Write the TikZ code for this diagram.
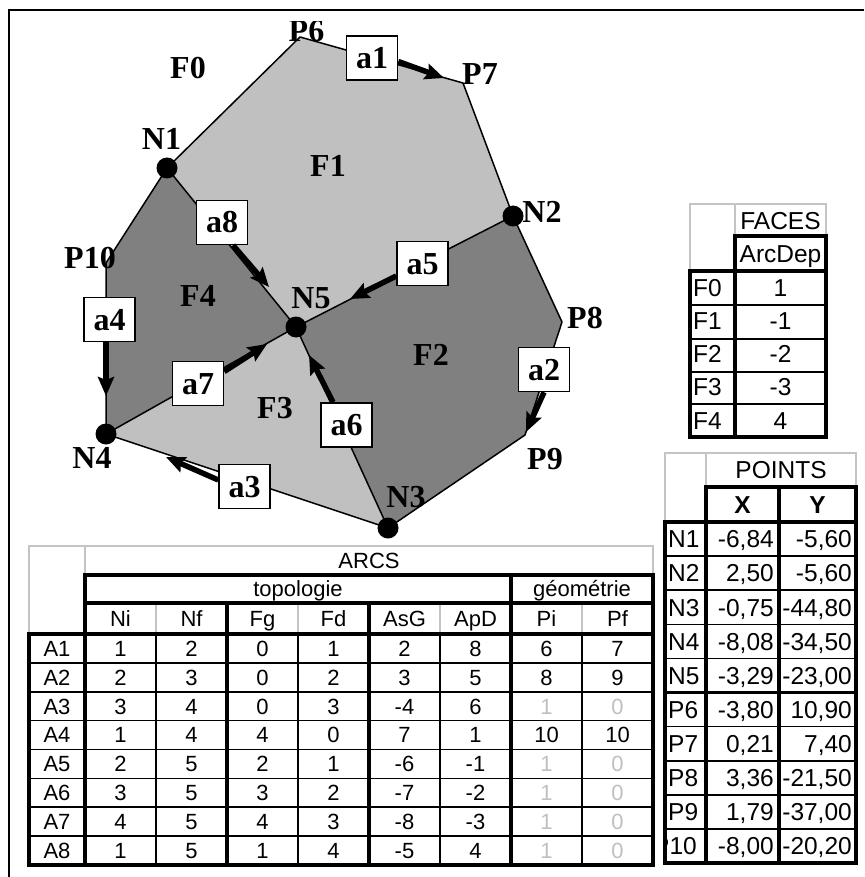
\documentclass[tikz,border=0pt]{standalone}
\usepackage{fontspec}
\setmainfont{Liberation Serif}
\newfontfamily\tabfont{Liberation Sans}
\usetikzlibrary{arrows.meta}
\definecolor{lgray}{RGB}{192,192,192}
\definecolor{dgray}{RGB}{128,128,128}
\definecolor{gridc}{RGB}{196,196,196}
\newcommand\greyed[1]{\textcolor{lgray}{#1}}
\tikzset{
  lbl/.style={font=\fontsize{32}{32}\selectfont\bfseries, inner sep=0pt, text height=21pt, text depth=0pt},
  abox/.style={lbl, draw, line width=1.5pt, fill=white, minimum width=51pt, minimum height=44pt},
  edgeln/.style={line width=1.5pt, line join=round},
  arr/.style={line width=5.5pt, -{Stealth[length=19pt,width=16pt,inset=3pt]}},
  tA/.style={font=\tabfont\fontsize{22}{22}\selectfont, inner sep=0pt, text height=15.7pt, text depth=0pt},
  tB/.style={font=\tabfont\fontsize{24.5}{24.5}\selectfont, inner sep=0pt, text height=17.5pt, text depth=0pt},
  gridl/.style={draw=gridc, line width=1.3pt},
  thk/.style={line width=3.2pt},
  thn/.style={line width=1.6pt},
  mid/.style={line width=2.2pt}
}
\begin{document}
\begin{tikzpicture}[x=1pt,y=-1pt]
\fill[white] (0,0) rectangle (864,877);
\useasboundingbox (0,0) rectangle (864,877);
% frame
\draw[line width=2pt] (9,877) -- (9,10.5) -- (864,10.5);

% vertices
\coordinate (N1) at (167,168);
\coordinate (N2) at (513,216);
\coordinate (N3) at (388,528);
\coordinate (N4) at (106,434);
\coordinate (N5) at (296,327);
\coordinate (P6) at (300,37);
\coordinate (P7) at (463,83);
\coordinate (P8) at (562,322);
\coordinate (P9) at (525,435);
\coordinate (P10) at (106,263);

% faces
\fill[lgray] (N1) -- (P6) -- (P7) -- (N2) -- (N5) -- cycle;
\fill[dgray] (N2) -- (P8) -- (P9) -- (N3) -- (N5) -- cycle;
\fill[lgray] (N5) -- (N3) -- (N4) -- cycle;
\fill[dgray] (N1) -- (N5) -- (N4) -- (P10) -- cycle;

% labels
\node[lbl] (lF0) at (188,68.5) {F0};
\node[lbl] (lF1) at (328,166) {F1};
\node[lbl] (lF2) at (431,355) {F2};
\node[lbl] (lF3) at (275,408) {F3};
\node[lbl] (lF4) at (198,296) {F4};
\node[lbl] (lN1) at (161.5,139) {N1};
\node[lbl] (lN2) at (542,212) {N2};
\node[lbl] (lN3) at (406,497) {N3};
\node[lbl] (lN4) at (92,457.5) {N4};
\node[lbl] (lN5) at (311,298) {N5};
\begin{scope}
\clip (250,22) rectangle (360,60);
\node[lbl] (lP6) at (306.5,31.5) {P6};
\end{scope}
\node[lbl] (lP7) at (480,74) {P7};
\node[lbl] (lP8) at (585,318) {P8};
\node[lbl] (lP9) at (545,459) {P9};
\node[lbl] (lP10) at (90,258) {P10};

% edges
\draw[edgeln] (N1) -- (P6) -- (P7) -- (N2) -- (P8) -- (P9) -- (N3) -- (N4) -- (P10) -- cycle;
\draw[edgeln] (N1) -- (N5);
\draw[edgeln] (N2) -- (N5);
\draw[edgeln] (N3) -- (N5);
\draw[edgeln] (N4) -- (N5);

% arc label boxes
\node[abox] (a1) at (372,58) {a1};
\node[abox] (a8) at (222,222.5) {a8};
\node[abox] (a5) at (422.5,263.5) {a5};
\node[abox] (a4) at (109.5,319.5) {a4};
\node[abox] (a7) at (198,383.5) {a7};
\node[abox] (a6) at (346.5,425) {a6};
\node[abox] (a3) at (244.5,486.5) {a3};
\node[abox] (a2) at (544,369.5) {a2};

% arrow ends
\coordinate (t1) at (444,78);
\coordinate (t8) at (269,287);
\coordinate (t5) at (350,299);
\coordinate (t4) at (106,396);
\coordinate (t7) at (267,344);
\coordinate (t6) at (309,355);
\coordinate (t3) at (166,457);
\coordinate (t2) at (526,432);
\draw[arr] ([yshift=-3.5pt]a1.east) -- (t1);
\draw[arr] ([xshift=11pt]a8.south) -- (t8);
\draw[arr] ([yshift=-12.5pt]a5.west) -- (t5);
\draw[arr] ([xshift=-3.5pt]a4.south) -- (t4);
\draw[arr] ([yshift=12pt]a7.east) -- (t7);
\draw[arr] ([xshift=-13.5pt]a6.north) -- (t6);
\draw[arr] ([yshift=6.5pt]a3.west) -- (t3);
\draw[arr] (a2.south) -- (t2);

% nodes (dots)
\foreach \n in {N1,N2,N3,N4,N5} \fill (\n) circle (10.5);

% ================= ARCS table =================
\draw[gridl] (29,634) -- (29,546) -- (653,546) -- (653,575);
\draw[gridl] (85,546) -- (85,575);
\foreach \x in {156,298,440,582} \draw[gridl] (\x,603) -- (\x,634);
\draw[thk] (85,575) rectangle (653,634);
\draw[thk] (85,603) -- (653,603);
\draw[thk] (511,575) -- (511,634);
\draw[thk] (227,603) -- (227,634);
\draw[thk] (369,603) -- (369,634);
\foreach \i in {1,...,7} \draw[thn] (29,{634+28.875*\i}) -- (653,{634+28.875*\i});
\foreach \x in {156,298,440,582} \draw[thn] (\x,634) -- (\x,865);
\foreach \x in {85,227,369,511} \draw[thk] (\x,634) -- (\x,865);
\draw[thk] (29,634) rectangle (653,865);

\node[tA] (hARCS) at (369,560.5) {ARCS};
\node[tA] (htopo) at (298,589) {topologie};
\node[tA] (hgeo) at (582,589) {géométrie};
\foreach \h [count=\k] in {Ni,Nf,Fg,Fd,AsG,ApD,Pi,Pf}
  \node[tA] (h-\k) at ({120.5+71*(\k-1)},618.5) {\h};
\foreach \vals [count=\i] in {
  {A1,1,2,0,1,2,8,6,7},
  {A2,2,3,0,2,3,5,8,9},
  {A3,3,4,0,3,-4,6,\greyed{1},\greyed{0}},
  {A4,1,4,4,0,7,1,10,10},
  {A5,2,5,2,1,-6,-1,\greyed{1},\greyed{0}},
  {A6,3,5,3,2,-7,-2,\greyed{1},\greyed{0}},
  {A7,4,5,4,3,-8,-3,\greyed{1},\greyed{0}},
  {A8,1,5,1,4,-5,4,\greyed{1},\greyed{0}}} {
  \foreach \v [count=\k] in \vals {
    \pgfmathsetmacro\xx{\k==1 ? 57 : 120.5+71*(\k-2)}
    \node[tA] (c-\i-\k) at (\xx,{634+28.875*(\i-0.5)}) {\v};
  }
}

% ================= FACES table =================
\draw[gridl] (690,271) -- (690,204) -- (826,204) -- (826,236);
\draw[gridl] (735,204) -- (735,236);
\draw[thk] (735,236) rectangle (826,271);
\foreach \y in {305,339,372,404} \draw[mid] (690,\y) -- (826,\y);
\draw[thk] (735,271) -- (735,437);
\draw[thk] (690,271) rectangle (826,437);
\node[tB] (hFACES) at (780.5,220.5) {FACES};
\node[tB] (hArcDep) at (780.5,253.5) {ArcDep};
\foreach \f/\v [count=\i] in {F0/1,F1/-1,F2/-2,F3/-3,F4/4} {
  \node[tB,anchor=west] (fl-\i) at (693,{271+33.2*(\i-0.5)}) {\f};
  \node[tB] (fv-\i) at (780.5,{271+33.2*(\i-0.5)}) {\v};
}

% ================= POINTS table =================
\draw[gridl] (665,522) -- (665,453) -- (856,453) -- (856,487);
\draw[gridl] (706,453) -- (706,487);
\draw[thk] (706,487) rectangle (856,522);
\draw[thk] (779,487) -- (779,522);
\foreach \i in {1,2,3,4,6,7,8,9} \draw[thn] (665,{522+34.1*\i}) -- (856,{522+34.1*\i});
\draw[mid] (665,{522+34.1*5}) -- (856,{522+34.1*5});
\draw[thk] (706,522) -- (706,863);
\draw[thk] (779,522) -- (779,863);
\draw[thk] (665,522) rectangle (856,863);
\node[tB] (hPOINTS) at (781,470) {POINTS};
\node[tB,font=\tabfont\fontsize{24.5}{24.5}\selectfont\bfseries] (hX) at (742.5,504.5) {X};
\node[tB,font=\tabfont\fontsize{24.5}{24.5}\selectfont\bfseries] (hY) at (817.5,504.5) {Y};
\newcommand\prow[4]{%
  \node[tB,anchor=west] (pl-#1) at (668,{522+34.1*(#1-0.5)}) {#2};
  \node[tB,anchor=east] (px-#1) at (774,{522+34.1*(#1-0.5)}) {#3};
  \node[tB,anchor=east] (py-#1) at (852,{522+34.1*(#1-0.5)}) {#4};}
\prow{1}{N1}{-6,84}{-5,60}
\prow{2}{N2}{2,50}{-5,60}
\prow{3}{N3}{-0,75}{-44,80}
\prow{4}{N4}{-8,08}{-34,50}
\prow{5}{N5}{-3,29}{-23,00}
\prow{6}{P6}{-3,80}{10,90}
\prow{7}{P7}{0,21}{7,40}
\prow{8}{P8}{3,36}{-21,50}
\prow{9}{P9}{1,79}{-37,00}
\node[tB,anchor=east] (px-10) at (774,{522+34.1*9.5}) {-8,00};
\node[tB,anchor=east] (py-10) at (852,{522+34.1*9.5}) {-20,20};
\begin{scope}
\clip (666,830) rectangle (705,862);
\node[tB,anchor=east] (pl-10) at (697,{522+34.1*9.5}) {P10};
\end{scope}
\end{tikzpicture}
\end{document}
